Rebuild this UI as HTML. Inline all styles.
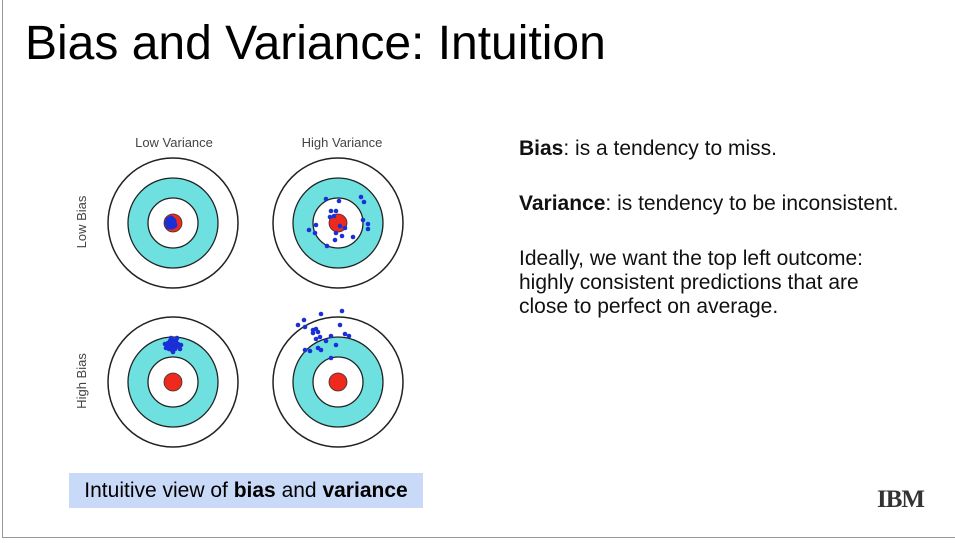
<!DOCTYPE html>
<html><head><meta charset="utf-8"><style>
body{margin:0;width:955px;height:543px;background:#fff;position:relative;overflow:hidden;font-family:"Liberation Sans",sans-serif;color:#111}
.a{position:absolute;white-space:nowrap}
</style></head><body>
<div class="a" style="left:2px;top:0;width:1px;height:538px;background:#999"></div>
<div class="a" style="left:2px;top:537px;width:953px;height:1px;background:#999"></div>
<div class="a" style="left:25px;top:16px;font-size:48px;color:#000">Bias and Variance: Intuition</div>
<div class="a" style="left:519px;top:137px;font-size:21px"><b>Bias</b>: is a tendency to miss.</div>
<div class="a" style="left:519px;top:192px;font-size:21px"><b>Variance</b>: is tendency to be inconsistent.</div>
<div class="a" style="left:519px;top:247px;font-size:21px;line-height:24px">Ideally, we want the top left outcome:<br>highly consistent predictions that are<br>close to perfect on average.</div>
<div class="a" style="left:69px;top:473px;width:354px;height:35px;background:#c9daf8;font-size:21px;line-height:35px;text-align:center;color:#000">Intuitive view of <b>bias</b> and <b>variance</b></div>
<div class="a" style="left:877px;top:486px;font-size:25px;font-weight:bold;letter-spacing:-1px;font-family:'Liberation Serif',serif;color:#333">IBM</div>
<svg class="a" style="left:0;top:0" width="955" height="543" id="fig">
<text x="174" y="147" font-size="13" fill="#444" text-anchor="middle">Low Variance</text>
<text x="342" y="147" font-size="13" fill="#444" text-anchor="middle">High Variance</text>
<text transform="translate(86,222) rotate(-90)" font-size="13" fill="#444" text-anchor="middle">Low Bias</text>
<text transform="translate(86,381) rotate(-90)" font-size="13" fill="#444" text-anchor="middle">High Bias</text>
</svg>
<script>
const targetNames=['low-bias-low-variance','low-bias-high-variance','high-bias-low-variance','high-bias-high-variance'];
const centerX=[173,338,173,338];
const centerY=[223,223,382,382];
// dot offsets from target centre (px)
const dotsTR=[[-12,-24],[1,-22],[23,-26],[26,-21],[-7,-12],[-2,-12],[-8,-6],[-4,-7],[25,-3],[30,1],[30,6],[-22,2],[-29,7],[-23,10],[-2,10],[4,13],[15,14],[-3,17],[-11,23],[2,3],[7,5]];
const dotsBR=[[-40,-57],[-34,-62],[-33,-55],[-17,-68],[4,-71],[2,-57],[-25,-52],[-22,-53],[-25,-49],[-20,-50],[-18,-45],[-7,-46],[7,-48],[11,-46],[-22,-43],[-12,-41],[-2,-37],[-33,-32],[-28,-31],[-20,-34],[-17,-32],[-7,-24]];
const dotsBL=[[-3,-41],[0,-42],[3,-41],[-5,-39],[-1,-38],[2,-39],[5,-38],[-6,-36],[-3,-36],[0,-35],[3,-36],[6,-35],[-4,-33],[-1,-32],[2,-33],[-7,-34],[8,-37],[-2,-44],[4,-44],[0,-30],[-8,-38],[7,-33]];
const dotsTL=[[-4,-3],[-3,1],[-5,0],[-2,-4],[-1,3],[-4,3],[-2,0],[0,-2],[1,2]];
const allDots=[dotsTL,dotsTR,dotsBL,dotsBR];
const svg=document.getElementById('fig');const NS='http://www.w3.org/2000/svg';
function circ(cx,cy,r,fill,stroke,sw){const c=document.createElementNS(NS,'circle');c.setAttribute('cx',cx);c.setAttribute('cy',cy);c.setAttribute('r',r);c.setAttribute('fill',fill);c.setAttribute('stroke',stroke);c.setAttribute('stroke-width',sw);svg.appendChild(c);return c;}
for(let i=0;i<4;i++){
 const cx=centerX[i],cy=centerY[i];
 let c=circ(cx,cy,65,'#fff','#222',1.5);
 
 
 c=circ(cx,cy,45,'#6ee0e0','#222',1.3);
 
 
 c=circ(cx,cy,25,'#fff','#222',1.3);
 
 
 c=circ(cx,cy,9,'#ee2a1e','#333',0.8);
 
 
 allDots[i].forEach(d=>{
  const p=circ(cx+d[0],cy+d[1],i===0?3.5:2.3,'#1a2fd6','none',0);
  
  
 });
}
</script>
</body></html>
